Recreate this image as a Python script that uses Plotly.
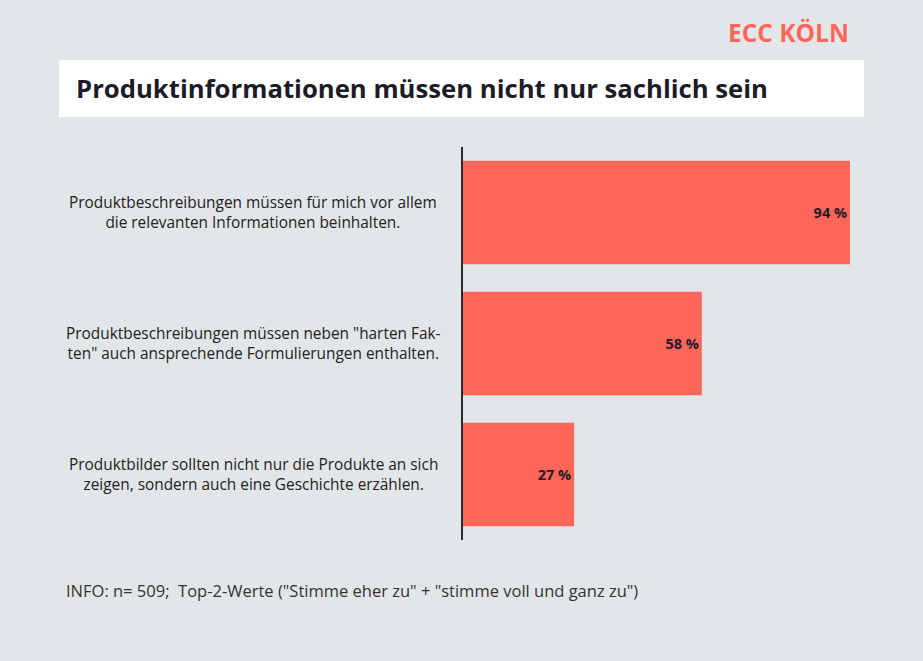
import plotly.graph_objects as go

categories = [
    "Produktbeschreibungen müssen für mich vor allem<br>die relevanten Informationen beinhalten.",
    "Produktbeschreibungen müssen neben \"harten Fak-<br>ten\" auch ansprechende Formulierungen enthalten.",
    "Produktbilder sollten nicht nur die Produkte an sich<br>zeigen, sondern auch eine Geschichte erzählen.",
]
values = [94, 58, 27]
value_labels = ["94 %", "58 %", "27 %"]

W, H = 923, 661
L, R, T, B = 463, 60, 147, 121
plot_w = W - L - R
plot_h = H - T - B

def px(x):
    return (x - L) / plot_w

def py(y):
    return (H - B - y) / plot_h

BG = "#e3e6e9"
BAR = "#fe665a"
DARK = "#1c1c28"

fig = go.Figure(go.Bar(
    y=categories, x=values, orientation="h",
    marker=dict(color=BAR, line=dict(width=0)),
    width=0.79,
    text=[f"<b>{t}</b>" for t in value_labels],
    textposition="inside", insidetextanchor="end",
    textfont=dict(family="Open Sans", size=14.5, color=DARK),
    cliponaxis=False,
))

annotations = []
for c in categories:
    annotations.append(dict(
        x=px(253), xref="paper", y=c, yref="y", text=c, showarrow=False,
        align="center", xanchor="center", yanchor="middle",
        font=dict(family="Open Sans", size=15.4, color="#222222"),
    ))

annotations += [
    dict(x=px(74), xref="paper", y=py(89), yref="paper",
         text="<b>Produktinformationen müssen nicht nur sachlich sein</b>",
         showarrow=False, xanchor="left", yanchor="middle",
         font=dict(family="Open Sans", size=25.7, color=DARK)),
    dict(x=px(851), xref="paper", y=py(33), yref="paper",
         text="<b>ECC KÖLN</b>", showarrow=False, xanchor="right", yanchor="middle",
         font=dict(family="Open Sans", size=24.5, color=BAR)),
    dict(x=px(64), xref="paper", y=py(590), yref="paper",
         text="INFO: n= 509;  Top-2-Werte (\"Stimme eher zu\" + \"stimme voll und ganz zu\")",
         showarrow=False, xanchor="left", yanchor="middle",
         font=dict(family="Open Sans", size=16.5, color="#333333")),
]

shapes = [dict(type="rect", xref="paper", yref="paper",
               x0=px(59), x1=px(864), y0=py(117), y1=py(60),
               fillcolor="white", line=dict(width=0), layer="below")]

fig.update_layout(
    width=W, height=H,
    margin=dict(l=L, r=R, t=T, b=B),
    paper_bgcolor=BG, plot_bgcolor=BG,
    showlegend=False,
    annotations=annotations,
    shapes=shapes,
    xaxis=dict(range=[0, plot_w / 4.117], visible=False, fixedrange=True),
    yaxis=dict(autorange="reversed", showticklabels=False, ticks="",
               showline=True, linecolor="#2a2a35", linewidth=1.8,
               showgrid=False, zeroline=False, fixedrange=True),
    bargap=0.21,
)

fig.write_html("out.html", config={"displayModeBar": False},
               post_script="document.body.style.margin='0';document.body.style.padding='0';")
